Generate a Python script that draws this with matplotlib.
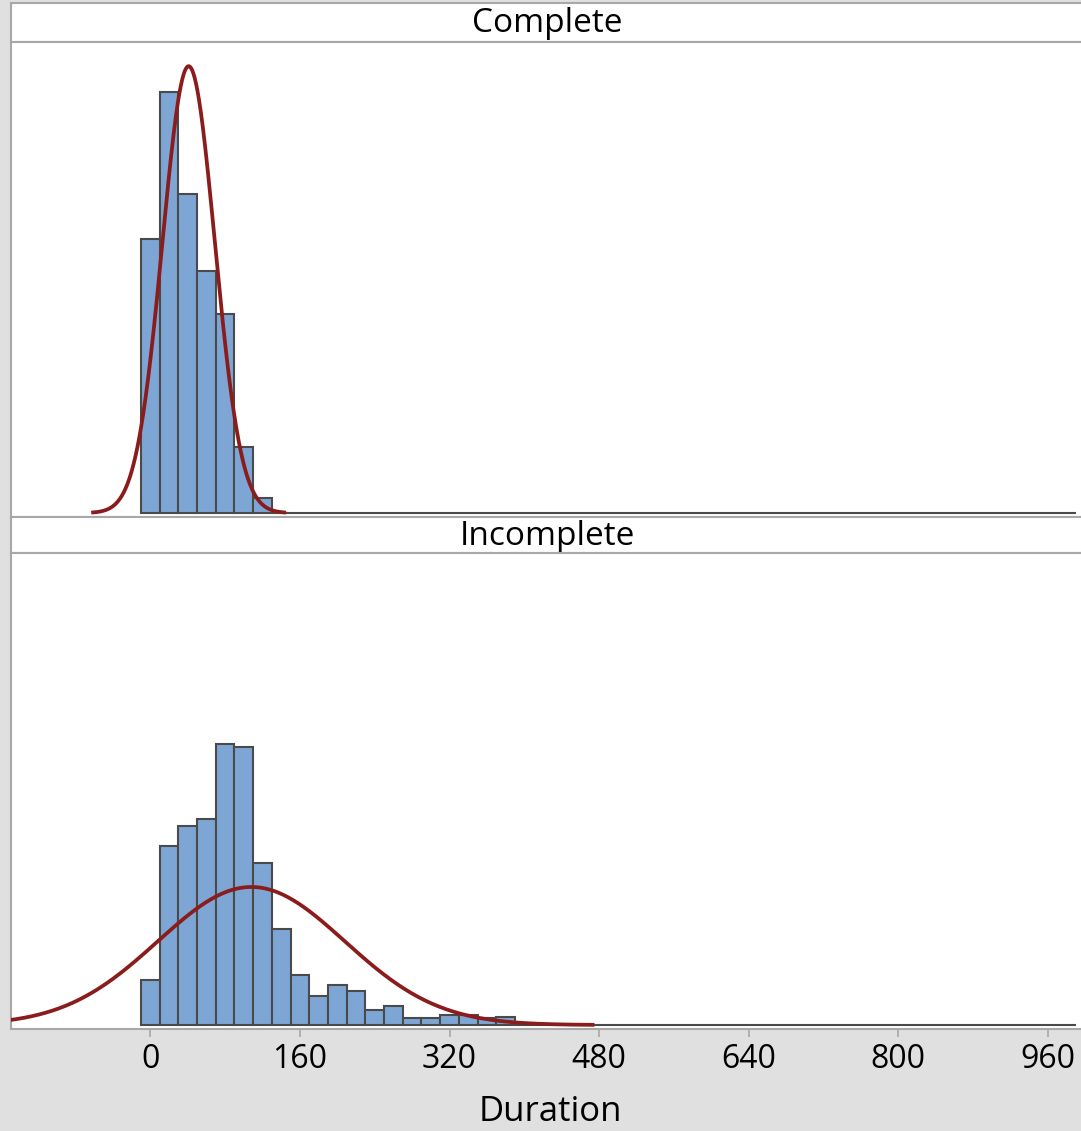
import matplotlib.pyplot as plt
import numpy as np

plt.rcParams['font.family'] = ['Open Sans', 'DejaVu Sans']

# histogram bins: width 20, centres 0..980
bin_width = 20
bin_centers = np.arange(0, 1000, bin_width)

complete_counts = [274, 421, 319, 242, 199, 66, 15]
incomplete_counts = [45, 179, 199, 206, 280, 277, 162, 96, 50, 29,
                     40, 34, 15, 19, 7, 7, 10, 10, 7, 8]

panel_names = ['Complete', 'Incomplete']

# fitted normal curves (mean, std dev, total count)
fit_mean = [41, 108]
fit_sd = [28, 100]
fit_n = [1568, 1726]

x_ticks = [0, 160, 320, 480, 640, 800, 960]

bar_color = '#7ea6d5'
edge_color = '#4a4a4a'
curve_color = '#8b1c1c'
frame_color = '#a8a8a8'
bg_color = '#e0e0e0'


def pad(counts):
    out = np.zeros(len(bin_centers))
    out[:len(counts)] = counts
    return out


W, H = 1081, 1131
fig = plt.figure(figsize=(W / 100, H / 100), dpi=100)
fig.patch.set_facecolor(bg_color)

left = 11 / W
width = 1079 / W

# (header top, header bottom, plot bottom) in pixels from the top
rows = [(3, 42, 517), (517, 553, 1029)]
all_counts = [complete_counts, incomplete_counts]

for i, (top, mid, bot) in enumerate(rows):
    hax = fig.add_axes([left, 1 - mid / H, width, (mid - top) / H])
    hax.set_facecolor('white')
    hax.set_xticks([])
    hax.set_yticks([])
    for s in hax.spines.values():
        s.set_color(frame_color)
        s.set_linewidth(1.5)
    hax.text(0.497, 0.47, panel_names[i], transform=hax.transAxes,
             ha='center', va='center', fontsize=24)

    ax = fig.add_axes([left, 1 - bot / H, width, (bot - mid) / H])
    ax.set_facecolor('white')
    ax.bar(bin_centers, pad(all_counts[i]), width=bin_width,
           color=bar_color, edgecolor=edge_color, linewidth=1.5, zorder=2)

    m, sd, n = fit_mean[i], fit_sd[i], fit_n[i]
    xs = np.linspace(m - 3.65 * sd, m + 3.65 * sd, 400)
    ys = n * bin_width * np.exp(-(xs - m) ** 2 / (2 * sd ** 2)) / (sd * np.sqrt(2 * np.pi))
    ax.plot(xs, ys, color=curve_color, linewidth=2.7, zorder=3)

    ax.set_xlim(-149, 1005)
    ax.set_ylim(-4, 471)
    ax.set_yticks([])
    for s in ax.spines.values():
        s.set_color(frame_color)
        s.set_linewidth(1.5)

    if i == 0:
        ax.set_xticks([])
    else:
        ax.set_xticks(x_ticks)
        ax.tick_params(axis='x', direction='out', length=6, width=1.2,
                       color=frame_color, labelsize=23, pad=4)
        ax.set_xlabel('Duration', fontsize=25, labelpad=14)

fig.savefig('out.png', dpi=100, facecolor=bg_color)
